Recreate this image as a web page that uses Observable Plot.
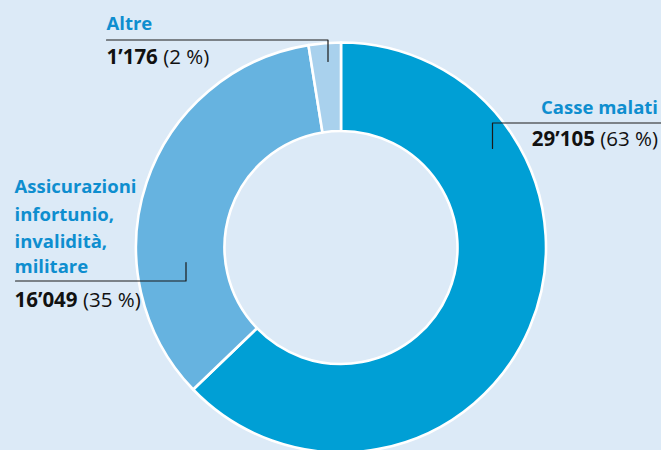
<!DOCTYPE html>
<html><head><meta charset="utf-8">
<script src="https://cdn.jsdelivr.net/npm/d3@7"></script>
<script src="https://cdn.jsdelivr.net/npm/@observablehq/plot@0.6"></script>
<style>
html,body{margin:0;padding:0;background:#dceaf7;}
#chart{width:661px;height:450px;overflow:hidden;}
</style></head><body><div id="chart"></div>
<script>
// ---- data ----
const categories = ["Casse malati", "Assicurazioni infortunio, invalidità, militare", "Altre"];
const titleLines = [["Casse malati"], ["Assicurazioni", "infortunio,", "invalidità,", "militare"], ["Altre"]];
const values = [29105, 16049, 1176];
const valueLabels = ["29’105", "16’049", "1’176"];
const shareLabels = ["(63 %)", "(35 %)", "(2 %)"];
const colors = ["#009fd5", "#66b3e0", "#a9d1ed"];

// ---- layout ----
const W = 661, H = 450;
const cx = 341, cy = 247.5, R = 205, R0 = 116.5;
const FONT = "Open Sans", FS_T = 18.5, FS_V = 20.5, LABEL_BLUE = "#0e8ecf";
const layout = [
  {anchor: "end", x: 657.5, titleY: [113], valueY: 145, line: [[661, 122.5], [492, 122.5], [492, 148]]},
  {anchor: "start", x: 14, titleY: [192.5, 220, 247, 272], valueY: 306.5, line: [[15, 280.5], [185.5, 280.5], [185.5, 262]]},
  {anchor: "start", x: 106, titleY: [29.5], valueY: 63.5, line: [[106, 39.5], [327.5, 39.5], [327.5, 61]]}
];

const canvas = document.createElement("canvas");
const ctx = canvas.getContext("2d");
function tw(s, weight) { ctx.font = `${weight} ${FS_V}px "${FONT}"`; return ctx.measureText(s).width; }

const data = categories.map((c, i) => ({category: c, value: values[i], color: colors[i]}));

const titleRows = [], boldRows = [], normRows = [], lineRows = [];
layout.forEach((L, i) => {
  titleLines[i].forEach((t, j) => titleRows.push({x: L.x, y: L.titleY[j], text: t, anchor: L.anchor}));
  const space = tw(" ", "normal");
  const wb = tw(valueLabels[i], "bold"), wn = tw(shareLabels[i], "normal");
  if (L.anchor === "end") {
    normRows.push({x: L.x - wn, y: L.valueY, text: shareLabels[i]});
    boldRows.push({x: L.x - wn - space - wb, y: L.valueY, text: valueLabels[i]});
  } else {
    boldRows.push({x: L.x, y: L.valueY, text: valueLabels[i]});
    normRows.push({x: L.x + wb + space, y: L.valueY, text: shareLabels[i]});
  }
  L.line.forEach(p => lineRows.push({x: p[0], y: p[1], k: i}));
});

function donut(index, scales) {
  const x0 = scales.x(cx), y0 = scales.y(cy);
  const outer = scales.x(cx + R) - x0, inner = scales.x(cx + R0) - x0;
  const arcs = d3.pie().sort(null).value(d => d.value)(data);
  const arc = d3.arc().innerRadius(inner).outerRadius(outer);
  const g = d3.create("svg:g").attr("transform", `translate(${x0},${y0})`);
  g.selectAll("path").data(arcs).join("path")
    .attr("d", arc)
    .attr("fill", d => d.data.color)
    .attr("stroke", "#ffffff")
    .attr("stroke-width", 2.6)
    .attr("stroke-linejoin", "round");
  return g.node();
}

const chart = Plot.plot({
  width: W, height: H,
  margin: 0,
  style: {background: "#dceaf7", fontFamily: FONT, overflow: "hidden"},
  x: {domain: [0, W], range: [0, W], axis: null},
  y: {domain: [0, H], range: [0, H], axis: null},
  marks: [
    donut,
    Plot.line(lineRows, {x: "x", y: "y", z: "k", stroke: "#1a1a1a", strokeWidth: 1.2, curve: "linear"}),
    Plot.text(titleRows.filter(d => d.anchor === "start"), {x: "x", y: "y", text: "text", textAnchor: "start", lineAnchor: "bottom", fill: LABEL_BLUE, fontWeight: "bold", fontSize: FS_T}),
    Plot.text(titleRows.filter(d => d.anchor === "end"), {x: "x", y: "y", text: "text", textAnchor: "end", lineAnchor: "bottom", fill: LABEL_BLUE, fontWeight: "bold", fontSize: FS_T}),
    Plot.text(boldRows, {x: "x", y: "y", text: "text", textAnchor: "start", lineAnchor: "bottom", fill: "#111", fontWeight: "bold", fontSize: FS_V}),
    Plot.text(normRows, {x: "x", y: "y", text: "text", textAnchor: "start", lineAnchor: "bottom", fill: "#111", fontWeight: "normal", fontSize: FS_V})
  ]
});
document.getElementById("chart").appendChild(chart);
</script></body></html>
